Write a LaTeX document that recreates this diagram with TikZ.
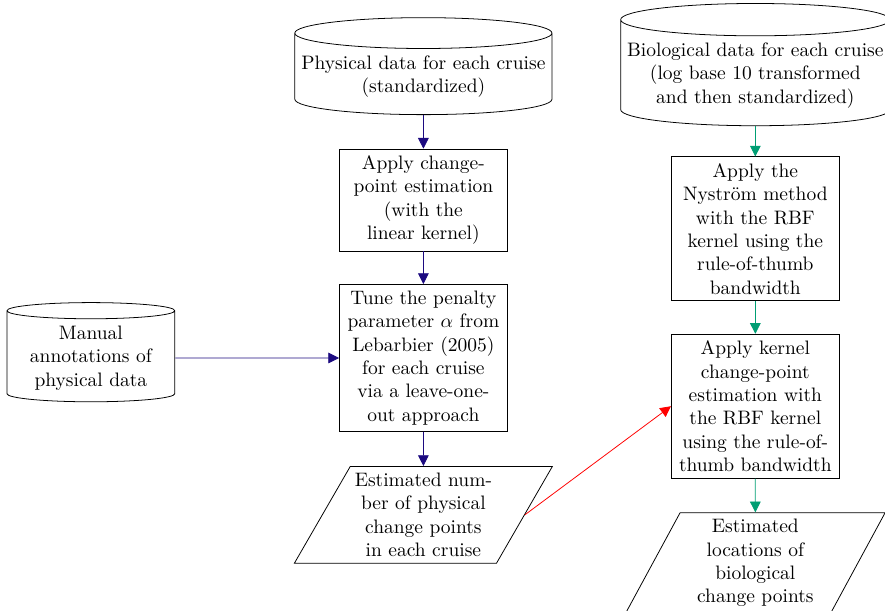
\documentclass[tikz,border=0pt]{standalone}
\usetikzlibrary{shapes.geometric,arrows.meta}
\definecolor{phys-blue}{HTML}{1C0A80}
\definecolor{bio-green}{HTML}{009E73}
\definecolor{link-red}{HTML}{FF0000}
\newlength{\basisa}
\setlength{\basisa}{1cm}
\tikzset{
    datacyl/.style={cylinder, shape border rotate=90, aspect=0.12, draw, align=center},
    stepbox/.style={rectangle, draw, align=center, minimum width=3.03\basisa},
    outbox/.style={trapezium, trapezium left angle=60, trapezium right angle=120, trapezium stretches=true, draw, align=center},
    tip/.tip={Triangle[length=5.5pt,width=5.5pt]},
    physarrow/.style={-tip, phys-blue},
    bioarrow/.style={-tip, bio-green},
}

\begin{document}
\begin{tikzpicture}
    \useasboundingbox (0,0) rectangle (15.97\basisa,-11.01\basisa);

    % physical branch
    \draw (7.64\basisa,-1.38\basisa)
		node[datacyl, minimum width=4.64\basisa, minimum height=1.75\basisa]
			(PhysData) {Physical data for each cruise\\(standardized)};
    \draw (7.64\basisa,-3.61\basisa)
		node[stepbox, minimum height=1.81\basisa]
			(LinearCP) {Apply change-\\point estimation\\(with the\\linear kernel)};
    \draw (7.64\basisa,-6.46\basisa)
		node[stepbox, minimum height=2.65\basisa]
			(TunePenalty) {Tune the penalty\\parameter $\alpha$ from\\Lebarbier (2005)\\for each cruise\\via a leave-one-\\out approach};
    \draw (7.64\basisa,-9.29\basisa)
		node[outbox, inner xsep=2.3pt, minimum height=1.73\basisa]
			(NumPhysCP) {Estimated num-\\ber of physical\\change points\\in each cruise};

    \draw (1.64\basisa,-6.46\basisa)
		node[datacyl, minimum width=3.03\basisa, minimum height=1.79\basisa]
			(Manual) {Manual\\annotations of\\physical data};

    % biological branch
    \draw (13.63\basisa,-1.36\basisa)
		node[datacyl, minimum width=4.82\basisa, minimum height=2.0\basisa]
			(BioData) {Biological data for each cruise\\(log base 10 transformed\\and then standardized)};
    \draw (13.63\basisa,-4.13\basisa)
		node[stepbox, minimum height=2.58\basisa]
			(Nystrom) {Apply the\\Nystr\"om method\\with the RBF\\kernel using the\\rule-of-thumb\\bandwidth};
    \draw (13.63\basisa,-7.33\basisa)
		node[stepbox, minimum height=2.58\basisa]
			(KernelCP) {Apply kernel\\change-point\\estimation with\\the RBF kernel\\using the rule-of-\\thumb bandwidth};
    \draw (13.63\basisa,-10.16\basisa)
		node[outbox, trapezium left angle=65, trapezium right angle=115, minimum width=4.69\basisa, minimum height=1.73\basisa]
			(BioCP) {Estimated\\locations of\\biological\\change points};

	\draw[physarrow] (PhysData) -- (LinearCP);
	\draw[physarrow] (LinearCP) -- (TunePenalty);
	\draw[physarrow] (TunePenalty) -- (NumPhysCP);
	\draw[physarrow] (Manual) -- (TunePenalty);
	\draw[bioarrow] (BioData) -- (Nystrom);
	\draw[bioarrow] (Nystrom) -- (KernelCP);
	\draw[bioarrow] (KernelCP) -- (BioCP);
	\draw[-tip, link-red] (NumPhysCP.east) -- (KernelCP.west);
\end{tikzpicture}
\end{document}
